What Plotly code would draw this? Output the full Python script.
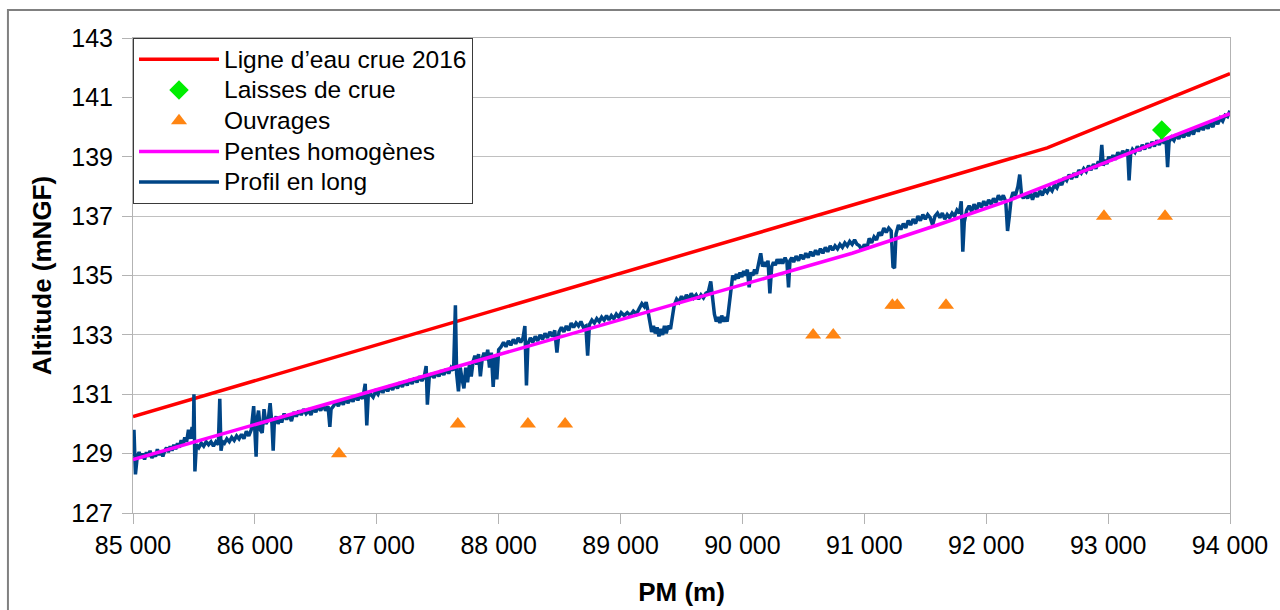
import plotly.graph_objects as go

# Ligne d'eau de la crue 2016
crue_pm = [85000, 92500, 94000]
crue_z = [130.25, 139.3, 141.8]

# Laisses de crue
laisses_pm = [93440]
laisses_z = [139.9]

# Ouvrages
ouvr_pm = [86690, 87665, 88240, 88545, 90580, 90745, 91230, 91270, 91670, 92966, 93467]
ouvr_z = [129, 130, 130, 130, 133, 133, 134, 134, 134, 137, 137]

# Pentes homogènes
pentes_pm = [85000, 90900, 91600, 92200, 94000]
pentes_z = [128.8, 135.75, 136.7, 137.55, 140.45]

# Profil en long (fond du lit) : couples (PM, altitude)
profil = [
    (85000, 128.9), (85008, 129.8), (85020, 128.3), (85035, 128.9), (85050, 129.05),
    (85065, 128.85), (85080, 129.0), (85095, 128.8), (85110, 129.05), (85125, 128.9),
    (85140, 129.1), (85155, 128.85), (85170, 129.0), (85185, 128.9), (85200, 129.15),
    (85215, 128.95), (85230, 129.1), (85245, 128.9), (85260, 129.1), (85275, 129.2),
    (85290, 129.05), (85305, 129.25), (85320, 129.1), (85335, 129.3), (85350, 129.15),
    (85365, 129.35), (85380, 129.2), (85395, 129.45), (85410, 129.3), (85425, 129.55),
    (85440, 129.4), (85455, 129.8), (85470, 129.5), (85485, 129.9), (85495, 129.5),
    (85500, 131.0), (85508, 128.4), (85520, 129.3), (85540, 129.2), (85560, 129.35),
    (85580, 129.25), (85600, 129.4), (85620, 129.3), (85640, 129.4), (85660, 129.25),
    (85680, 129.4), (85700, 129.3), (85712, 130.85), (85722, 129.1), (85735, 129.4),
    (85750, 129.35), (85770, 129.5), (85790, 129.4), (85810, 129.55), (85830, 129.45),
    (85850, 129.6), (85870, 129.5), (85890, 129.65), (85910, 129.5), (85930, 129.75),
    (85950, 129.6), (85970, 129.8), (85990, 130.6), (86000, 129.7), (86010, 128.9),
    (86020, 130.2), (86030, 130.45), (86045, 129.8), (86060, 129.7), (86075, 130.5),
    (86090, 130.0), (86110, 130.15), (86125, 130.7), (86140, 130.0), (86150, 129.1),
    (86160, 130.1), (86175, 130.25), (86190, 130.0), (86205, 130.2), (86220, 130.05),
    (86240, 130.35), (86260, 130.15), (86280, 130.3), (86300, 130.1), (86320, 130.4),
    (86340, 130.25), (86360, 130.45), (86380, 130.3), (86400, 130.5), (86420, 130.35),
    (86440, 130.45), (86460, 130.3), (86480, 130.55), (86500, 130.4), (86520, 130.6),
    (86540, 130.45), (86560, 130.65), (86580, 130.45), (86600, 130.6), (86615, 129.9),
    (86625, 130.5), (86645, 130.6), (86665, 130.75), (86685, 130.6), (86705, 130.8),
    (86725, 130.65), (86745, 130.85), (86765, 130.7), (86785, 130.9), (86805, 130.75),
    (86825, 130.95), (86845, 130.8), (86865, 130.95), (86885, 130.85), (86905, 131.35),
    (86918, 129.95), (86930, 130.95), (86950, 131.0), (86970, 130.9), (86990, 131.1),
    (87010, 131.0), (87030, 131.2), (87050, 131.05), (87070, 131.25), (87090, 131.1),
    (87110, 131.3), (87130, 131.15), (87150, 131.35), (87170, 131.2), (87190, 131.4),
    (87210, 131.25), (87230, 131.45), (87250, 131.3), (87270, 131.5), (87290, 131.35),
    (87310, 131.55), (87330, 131.4), (87350, 131.6), (87370, 131.45), (87390, 131.6),
    (87405, 131.95), (87415, 130.65), (87430, 131.55), (87450, 131.7), (87470, 131.55),
    (87490, 131.75), (87510, 131.6), (87530, 131.8), (87550, 131.65), (87570, 131.85),
    (87590, 131.7), (87610, 131.9), (87630, 131.8), (87645, 134.0), (87655, 131.7),
    (87670, 131.1), (87685, 131.9), (87700, 131.5), (87715, 131.2), (87730, 131.9),
    (87745, 131.4), (87760, 132.0), (87775, 131.6), (87790, 132.1), (87805, 132.3),
    (87820, 132.0), (87835, 132.35), (87850, 131.6), (87865, 132.2), (87880, 132.4),
    (87895, 132.15), (87910, 132.5), (87925, 131.9), (87940, 132.4), (87955, 131.25),
    (87970, 132.3), (87985, 131.5), (88000, 132.5), (88020, 132.6), (88040, 132.75),
    (88060, 132.6), (88080, 132.8), (88100, 132.65), (88120, 132.85), (88140, 132.7),
    (88160, 132.9), (88180, 132.75), (88200, 132.9), (88215, 133.3), (88228, 131.3),
    (88240, 132.7), (88260, 132.9), (88280, 132.75), (88300, 132.95), (88320, 132.8),
    (88340, 133.0), (88360, 132.85), (88380, 133.05), (88400, 132.9), (88420, 133.1),
    (88440, 132.95), (88460, 133.15), (88478, 132.4), (88495, 133.1), (88515, 133.25),
    (88535, 133.1), (88555, 133.3), (88575, 133.15), (88595, 133.4), (88615, 133.25),
    (88635, 133.4), (88655, 133.3), (88675, 133.45), (88695, 133.25), (88715, 133.3),
    (88730, 132.3), (88745, 133.35), (88765, 133.5), (88785, 133.4), (88805, 133.55),
    (88825, 133.45), (88845, 133.6), (88865, 133.5), (88885, 133.65), (88905, 133.5),
    (88925, 133.65), (88945, 133.55), (88965, 133.7), (88985, 133.6), (89005, 133.75),
    (89030, 133.65), (89055, 133.75), (89080, 133.65), (89105, 133.8), (89130, 133.7),
    (89155, 133.9), (89175, 134.05), (89195, 133.95), (89210, 134.1), (89225, 133.8),
    (89240, 133.5), (89255, 133.1), (89270, 133.3), (89285, 133.05), (89300, 133.25),
    (89315, 132.95), (89330, 133.2), (89345, 133.0), (89360, 133.3), (89375, 133.05),
    (89390, 133.3), (89410, 133.2), (89425, 133.6), (89440, 134.0), (89460, 134.2),
    (89480, 134.1), (89500, 134.3), (89520, 134.15), (89540, 134.35), (89560, 134.2),
    (89580, 134.4), (89600, 134.25), (89620, 134.35), (89640, 134.2), (89660, 134.35),
    (89680, 134.25), (89700, 134.4), (89720, 134.45), (89740, 134.8), (89755, 134.3),
    (89770, 133.7), (89785, 133.45), (89800, 133.6), (89815, 133.4), (89830, 133.65),
    (89845, 133.45), (89860, 133.6), (89875, 133.45), (89890, 133.9), (89905, 134.4),
    (89920, 135.0), (89935, 134.85), (89950, 135.05), (89965, 134.9), (89980, 135.1),
    (89995, 134.95), (90010, 135.15), (90025, 135.0), (90040, 135.2), (90055, 134.6),
    (90070, 135.1), (90085, 135.0), (90100, 135.2), (90115, 135.05), (90130, 135.3),
    (90150, 135.75), (90165, 135.3), (90180, 135.45), (90195, 135.3), (90210, 135.5),
    (90225, 134.4), (90240, 135.3), (90255, 135.45), (90270, 135.35), (90285, 135.55),
    (90300, 135.4), (90315, 135.55), (90330, 135.4), (90350, 135.6), (90365, 135.45),
    (90378, 134.6), (90390, 135.5), (90405, 135.6), (90420, 135.45), (90440, 135.65),
    (90460, 135.5), (90480, 135.7), (90500, 135.55), (90520, 135.75), (90540, 135.6),
    (90560, 135.8), (90580, 135.65), (90600, 135.85), (90620, 135.7), (90640, 135.9),
    (90660, 135.75), (90680, 135.95), (90700, 135.8), (90720, 136.0), (90740, 135.85),
    (90760, 136.0), (90780, 135.9), (90800, 136.05), (90820, 135.95), (90840, 136.1),
    (90860, 136.0), (90880, 136.15), (90900, 136.05), (90920, 136.2), (90940, 136.05),
    (90960, 136.0), (90980, 135.85), (91000, 136.05), (91020, 135.9), (91040, 136.25),
    (91060, 136.1), (91080, 136.3), (91100, 136.2), (91120, 136.45), (91140, 136.35),
    (91160, 136.6), (91180, 136.45), (91200, 136.6), (91220, 136.5), (91235, 135.3),
    (91248, 135.25), (91260, 136.4), (91280, 136.7), (91300, 136.55), (91320, 136.75),
    (91340, 136.6), (91360, 136.85), (91380, 136.7), (91400, 136.9), (91420, 136.75),
    (91440, 137.0), (91460, 136.85), (91480, 137.05), (91500, 136.9), (91520, 137.05),
    (91540, 136.95), (91560, 136.7), (91580, 137.0), (91600, 137.1), (91620, 136.95),
    (91640, 137.1), (91660, 136.9), (91680, 137.05), (91700, 136.95), (91720, 137.1),
    (91740, 137.0), (91760, 137.2), (91780, 137.1), (91795, 137.5), (91808, 135.8),
    (91820, 136.8), (91840, 137.2), (91860, 137.35), (91880, 137.15), (91900, 137.4),
    (91920, 137.2), (91940, 137.45), (91960, 137.3), (91980, 137.5), (92000, 137.35),
    (92020, 137.55), (92040, 137.4), (92060, 137.6), (92080, 137.45), (92100, 137.7),
    (92120, 137.55), (92140, 137.7), (92160, 137.5), (92175, 136.5), (92190, 137.0),
    (92205, 137.6), (92220, 137.8), (92240, 137.7), (92260, 138.0), (92275, 138.4),
    (92290, 137.7), (92305, 137.6), (92320, 137.75), (92340, 137.6), (92360, 137.8),
    (92380, 137.55), (92400, 137.8), (92420, 137.65), (92440, 137.85), (92460, 137.7),
    (92480, 137.9), (92500, 137.8), (92520, 137.95), (92540, 137.85), (92560, 138.05),
    (92580, 137.95), (92600, 138.15), (92620, 138.05), (92640, 138.3), (92660, 138.2),
    (92680, 138.4), (92700, 138.25), (92720, 138.45), (92740, 138.3), (92760, 138.55),
    (92780, 138.45), (92800, 138.6), (92820, 138.5), (92840, 138.7), (92860, 138.55),
    (92880, 138.75), (92900, 138.6), (92920, 138.85), (92935, 138.7), (92948, 139.4),
    (92960, 138.7), (92975, 138.9), (92990, 138.75), (93005, 139.0), (93020, 138.85),
    (93040, 139.05), (93060, 138.9), (93080, 139.15), (93100, 139.0), (93120, 139.2),
    (93140, 139.05), (93160, 139.25), (93172, 138.2), (93185, 139.1), (93200, 139.25),
    (93220, 139.15), (93240, 139.35), (93260, 139.2), (93280, 139.4), (93300, 139.25),
    (93320, 139.45), (93340, 139.3), (93360, 139.5), (93380, 139.35), (93400, 139.55),
    (93420, 139.4), (93440, 139.6), (93460, 139.45), (93475, 139.6), (93488, 138.65),
    (93500, 139.5), (93520, 139.65), (93540, 139.55), (93560, 139.75), (93580, 139.6),
    (93600, 139.8), (93620, 139.65), (93640, 139.85), (93660, 139.7), (93680, 139.9),
    (93700, 139.75), (93720, 140.0), (93740, 139.85), (93760, 140.05), (93780, 139.9),
    (93800, 140.1), (93820, 139.95), (93840, 140.15), (93860, 140.0), (93880, 140.25),
    (93900, 140.1), (93920, 140.3), (93940, 140.2), (93960, 140.4), (93980, 140.35),
    (94000, 140.55),
]
profil_pm = [p for p, _ in profil]
profil_z = [z for _, z in profil]

FONT = "Liberation Sans, Arial, sans-serif"


def legend_name(text):
    # legend rows keep a tight row pitch while the label is drawn slightly larger
    return '<span style="font-size:24.5px">' + text + "</span>"


fig = go.Figure()

fig.add_trace(go.Scatter(
    x=crue_pm, y=crue_z, mode="lines", name=legend_name("Ligne d\u2019eau crue 2016"),
    line=dict(color="#ff0000", width=3.5), legendrank=1,
))
fig.add_trace(go.Scatter(
    x=ouvr_pm, y=ouvr_z, mode="markers", name=legend_name("Ouvrages"),
    marker=dict(symbol="triangle-up", size=14, color="#ff8512"),
    legendrank=3,
))
fig.add_trace(go.Scatter(
    x=profil_pm, y=profil_z, mode="lines", name=legend_name("Profil en long"),
    line=dict(color="#004586", width=3.5), legendrank=5,
))
fig.add_trace(go.Scatter(
    x=pentes_pm, y=pentes_z, mode="lines", name=legend_name("Pentes homogènes"),
    line=dict(color="#ff00ff", width=3.5), legendrank=4,
))
fig.add_trace(go.Scatter(
    x=laisses_pm, y=laisses_z, mode="markers", name=legend_name("Laisses de crue"),
    marker=dict(symbol="diamond", size=15, color="#00ee00"),
    legendrank=2,
))

fig.update_layout(
    width=1280, height=610,
    margin=dict(l=133, r=50, t=38, b=97, autoexpand=False),
    paper_bgcolor="white", plot_bgcolor="white",
    font=dict(family=FONT, size=22, color="black"),
    separators=", ",
    showlegend=True,
    legend=dict(
        x=0, y=1, xanchor="left", yanchor="top",
        bgcolor="white", bordercolor="#3a3a3a", borderwidth=1,
        font=dict(family=FONT, size=21.3, color="black"),
        traceorder="normal", itemwidth=80,
    ),
    xaxis=dict(
        range=[85000, 94000], tick0=85000, dtick=1000, tickformat=",d",
        showgrid=False, showline=True, linecolor="#b3b3b3", linewidth=1,
        mirror=True, ticks="outside", ticklen=10, tickcolor="#b3b3b3",
        tickfont=dict(size=25), automargin=False,
        title=dict(text="<b>PM (m)</b>", font=dict(size=26), standoff=24),
        zeroline=False,
    ),
    yaxis=dict(
        range=[127, 143], tick0=127, dtick=2,
        showgrid=True, gridcolor="#c0c0c0", gridwidth=1,
        showline=True, linecolor="#b3b3b3", linewidth=1, mirror=True,
        ticks="outside", ticklen=10, tickcolor="#b3b3b3",
        tickfont=dict(size=25), ticklabelstandoff=4, automargin=False,
        title=dict(text="<b>Altitude (mNGF)</b>", font=dict(size=26), standoff=12),
        zeroline=False,
    ),
    shapes=[dict(
        type="rect", xref="paper", yref="paper",
        x0=-0.114, x1=1.2, y0=-0.5, y1=1.059,
        line=dict(color="#808080", width=2), fillcolor="rgba(0,0,0,0)",
        layer="below",
    )],
)

fig.write_html("out.html")
